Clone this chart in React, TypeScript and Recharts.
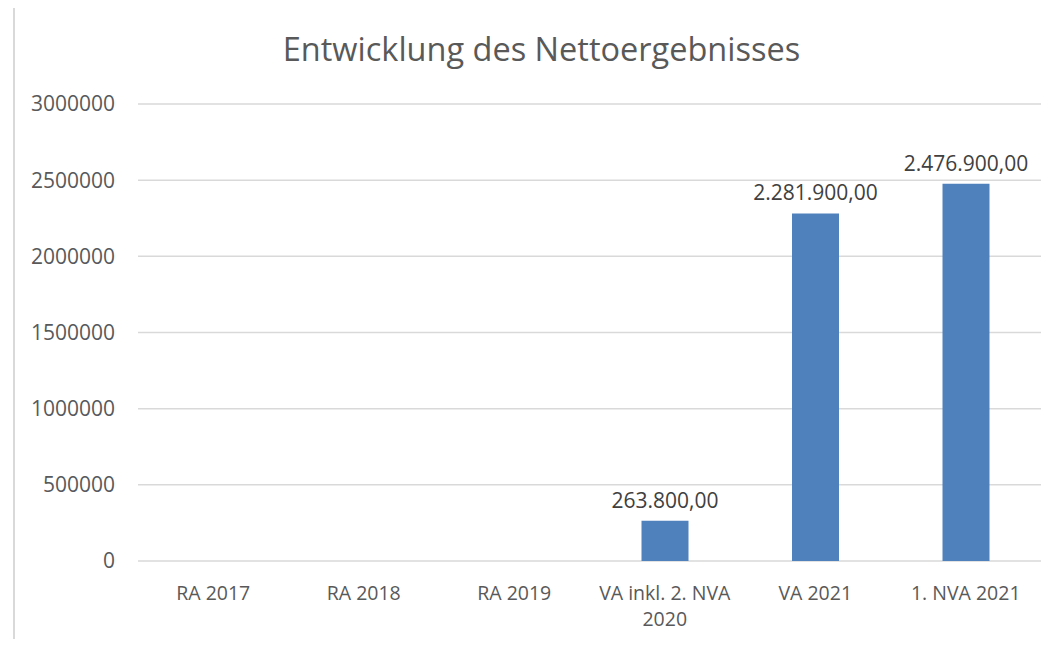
import React from 'react';
import { BarChart, Bar, XAxis, YAxis, CartesianGrid, LabelList } from 'recharts';

const categories = ['RA 2017', 'RA 2018', 'RA 2019', 'VA inkl. 2. NVA\n2020', 'VA 2021', '1. NVA 2021'];
const values: (number | null)[] = [null, null, null, 263800, 2281900, 2476900];
const yTicks = [0, 500000, 1000000, 1500000, 2000000, 2500000, 3000000];

const data = categories.map((name, i) => ({ name, value: values[i] }));

const FONT = '"Open Sans", sans-serif';
const TEXT = '#595959';

// German number format, e.g. 2.281.900,00
const fmtDe = (v: any) => {
  if (v == null) return '';
  const [int, dec] = Number(v).toFixed(2).split('.');
  return int.replace(/\B(?=(\d{3})+(?!\d))/g, '.') + ',' + dec;
};

const CategoryTick = ({ x, y, payload }: any) => {
  const lines = String(payload.value).split('\n');
  return (
    <text x={x} y={y} textAnchor="middle" fill={TEXT} fontSize={19.5} fontFamily={FONT}>
      {lines.map((line, i) => (
        <tspan key={i} x={x} dy={i === 0 ? 31 : 26}>{line}</tspan>
      ))}
    </text>
  );
};

export default function App() {
  return (
    <div style={{ position: 'relative', width: 1050, height: 647, margin: -8, background: '#fff', overflow: 'hidden' }}>
      {/* chart frame */}
      <div style={{ position: 'absolute', left: 13, top: 5, width: 1100, height: 700, border: '2px solid #d9d9d9', boxSizing: 'border-box' }} />
      <div style={{ position: 'absolute', left: 0, width: 1083, top: 26, textAlign: 'center', fontFamily: FONT, fontSize: 32.5, color: TEXT }}>
        Entwicklung des Nettoergebnisses
      </div>
      <div style={{ position: 'absolute', left: 0, top: 0 }}>
        <BarChart width={1050} height={647} data={data} margin={{ top: 104, right: 9, bottom: 0, left: 0 }}>
          <CartesianGrid vertical={false} stroke="#d9d9d9" strokeWidth={1.5} />
          <XAxis dataKey="name" tick={<CategoryTick />} tickLine={false} axisLine={false} interval={0} height={86} />
          <YAxis
            width={138}
            domain={[0, 3000000]}
            ticks={yTicks}
            tickSize={0}
            tickMargin={23}
            tickLine={false}
            axisLine={false}
            tick={{ fill: TEXT, fontSize: 21, fontFamily: FONT }}
          />
          <Bar dataKey="value" fill="#4f81bd" barSize={47} isAnimationActive={false}>
            <LabelList
              dataKey="value"
              position="top"
              offset={13}
              formatter={fmtDe}
              fill="#404040"
              fontSize={21}
              fontFamily={FONT}
            />
          </Bar>
        </BarChart>
      </div>
    </div>
  );
}
